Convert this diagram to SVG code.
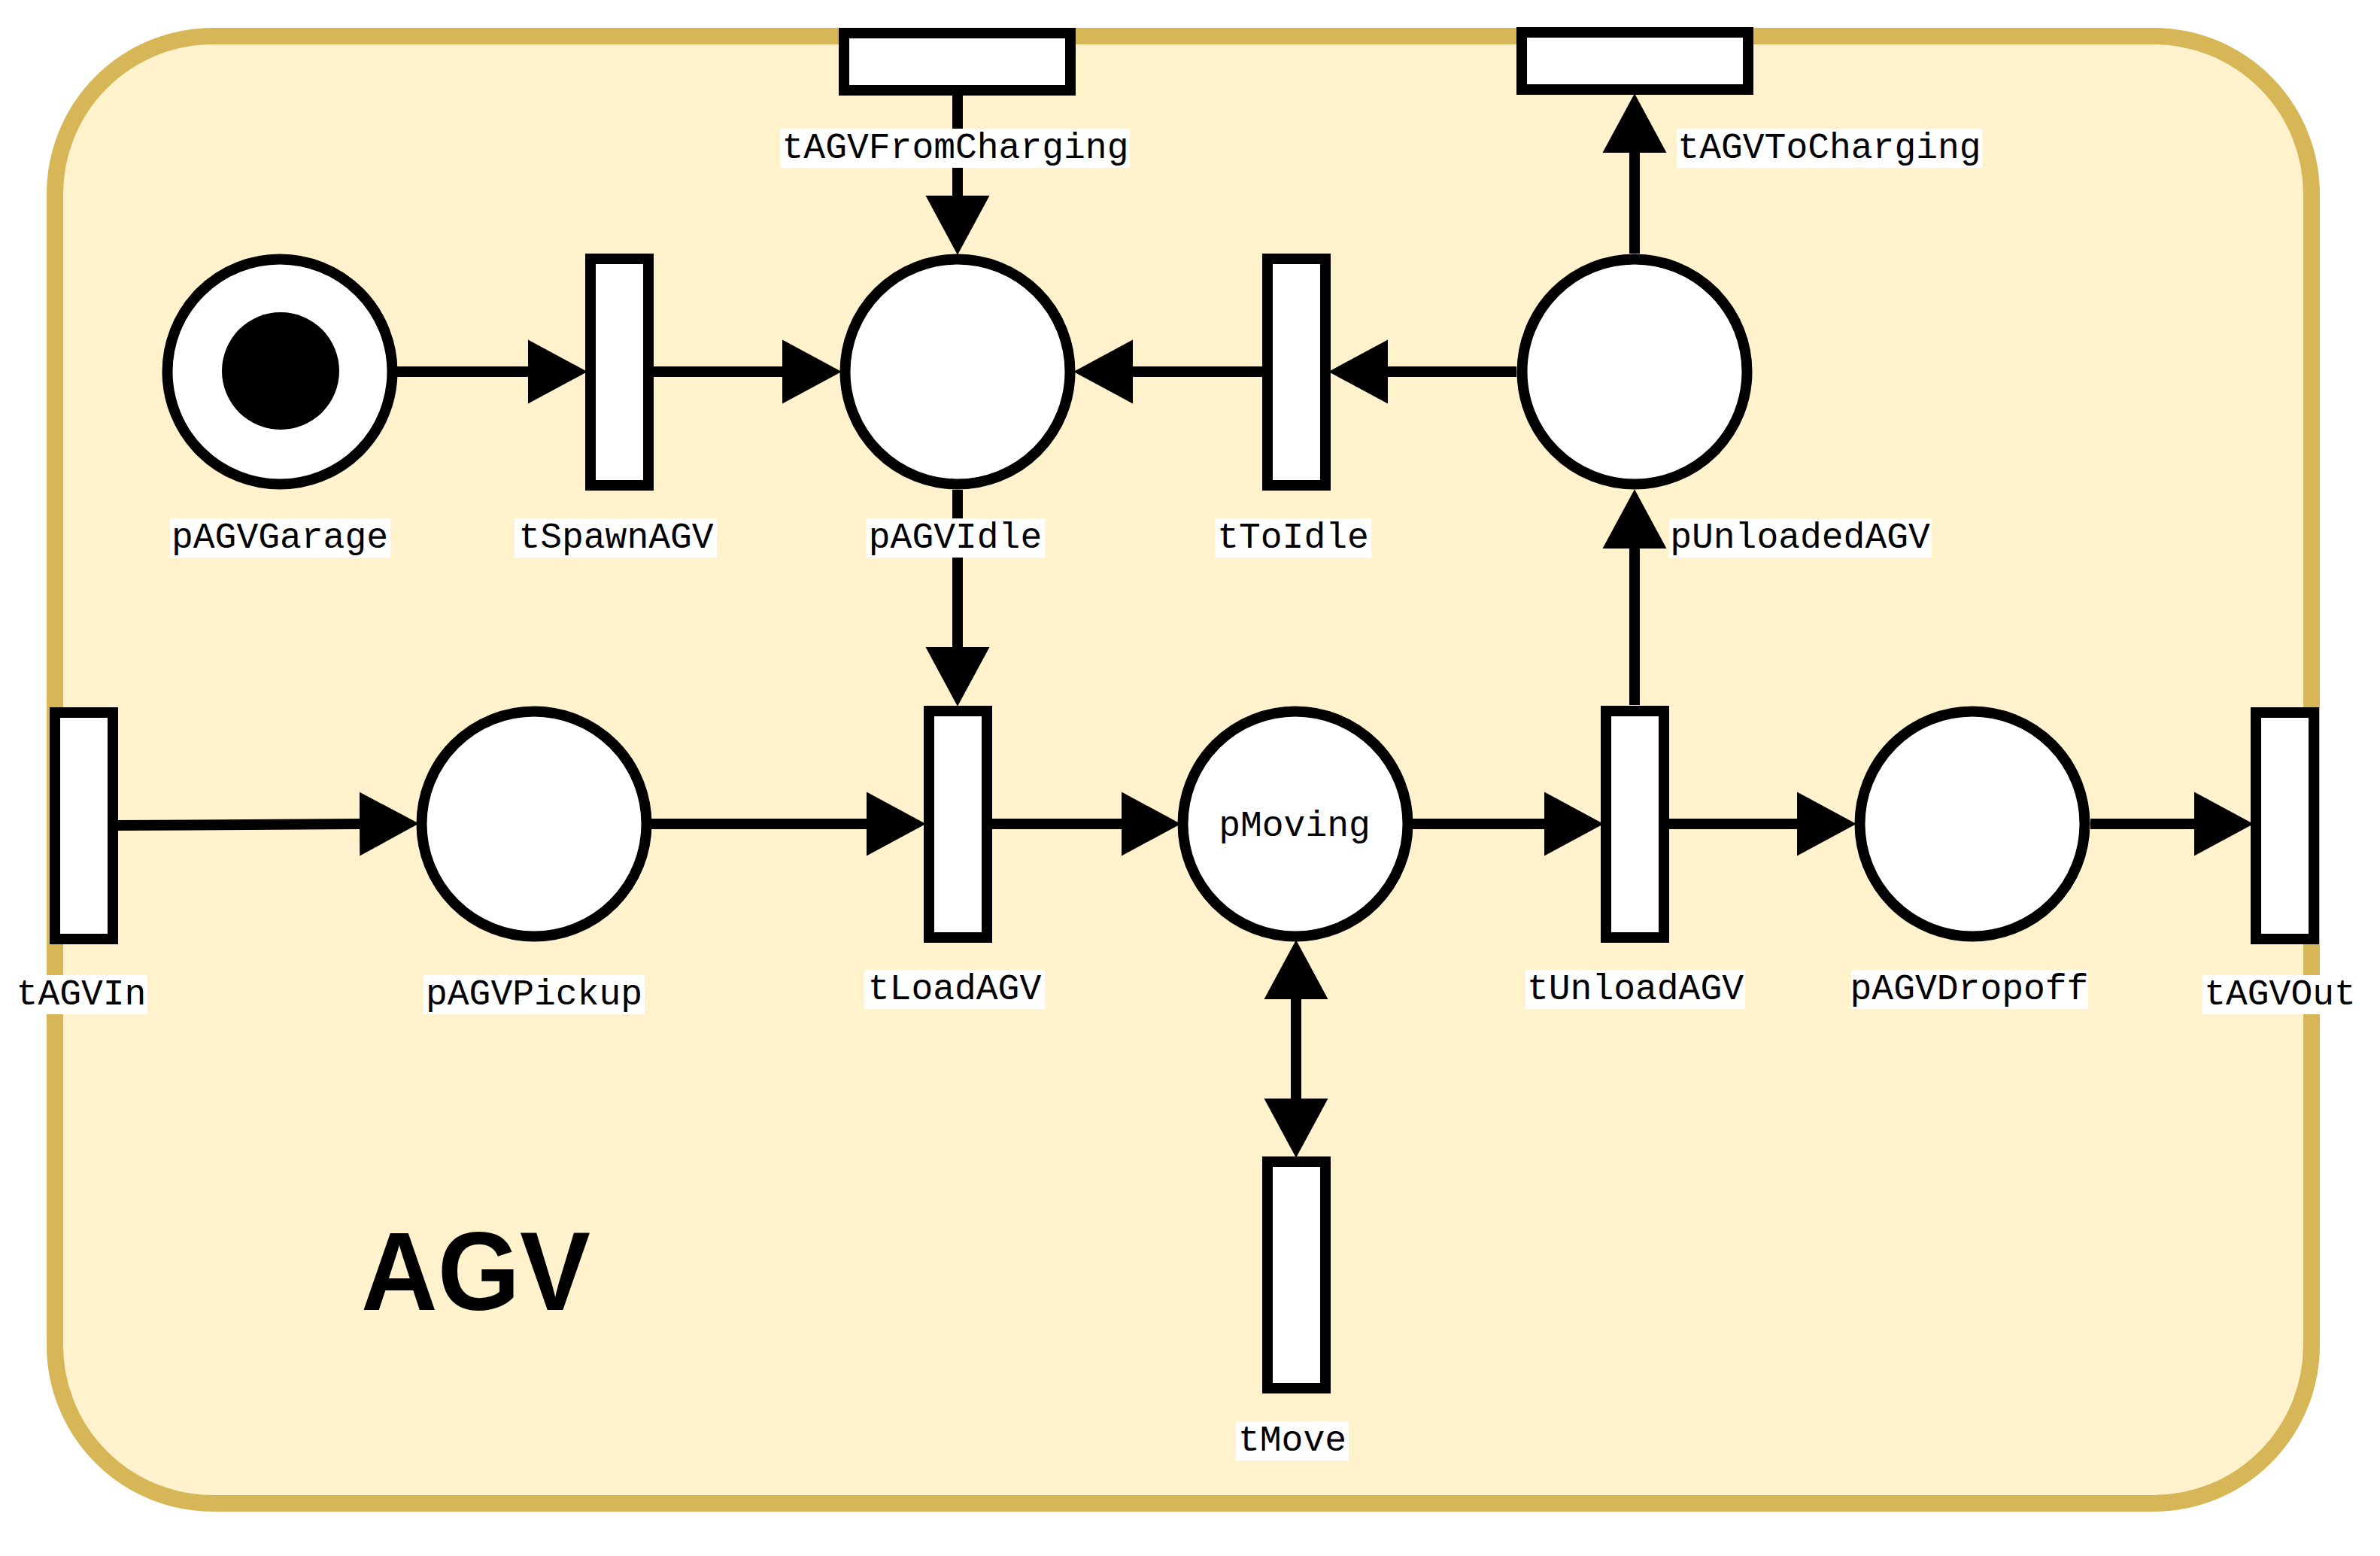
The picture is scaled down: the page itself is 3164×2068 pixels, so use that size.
<svg xmlns="http://www.w3.org/2000/svg" width="3164" height="2068" viewBox="0 0 3164 2068">
<style>
.place{fill:#ffffff;stroke:#000000;stroke-width:14}
.trans{fill:#ffffff;stroke:#000000;stroke-width:14}
.edge{fill:none;stroke:#000000;stroke-width:14}
.lbg{fill:#ffffff}
.lbl{font-family:"Liberation Mono","Courier New",monospace;font-size:48px;fill:#000000;dominant-baseline:central}
</style>
<defs>
<marker id="arr" markerUnits="userSpaceOnUse" markerWidth="80" markerHeight="86" viewBox="0 0 78 84" refX="0" refY="42" orient="auto-start-reverse">
<path d="M0,0.5 L77,42 L0,83.5 z" fill="#000000"/>
</marker>
</defs>
<rect width="3164" height="2068" fill="#ffffff"/>
<g id="container">
<rect x="73" y="48" width="3000" height="1950" rx="210" ry="210" fill="#fff2cc" stroke="#d6b656" stroke-width="22"/>
<text x="480" y="1741" font-family="Liberation Sans, Arial, sans-serif" font-weight="bold" font-size="148" textLength="305" lengthAdjust="spacingAndGlyphs" fill="#000000">AGV</text>
</g>
<g id="connectors">
<path class="edge" d="M528,494 L702,494" marker-end="url(#arr)"/>
<path class="edge" d="M869,494 L1040,494" marker-end="url(#arr)"/>
<path class="edge" d="M1273,126 L1273,260" marker-end="url(#arr)"/>
<path class="edge" d="M1678,494 L1506,494" marker-end="url(#arr)"/>
<path class="edge" d="M2016,494 L1845,494" marker-end="url(#arr)"/>
<path class="edge" d="M2173,337 L2173,203" marker-end="url(#arr)"/>
<path class="edge" d="M2173,937 L2173,729" marker-end="url(#arr)"/>
<path class="edge" d="M1273,651 L1273,860" marker-end="url(#arr)"/>
<path class="edge" d="M156,1097 L478,1095" marker-end="url(#arr)"/>
<path class="edge" d="M865,1095 L1152,1095" marker-end="url(#arr)"/>
<path class="edge" d="M1318,1095 L1491,1095" marker-end="url(#arr)"/>
<path class="edge" d="M1877,1095 L2053,1095" marker-end="url(#arr)"/>
<path class="edge" d="M2219,1095 L2389,1095" marker-end="url(#arr)"/>
<path class="edge" d="M2779,1095 L2917,1095" marker-end="url(#arr)"/>
<path class="edge" d="M1723,1328 L1723,1460" marker-start="url(#arr)" marker-end="url(#arr)"/>
</g>
<g id="tAGVFromCharging">
<rect class="trans" x="1122" y="44" width="301" height="76"/>
<rect class="lbg" x="1037" y="171" width="465" height="52"/>
<text class="lbl" x="1270" y="197" text-anchor="middle">tAGVFromCharging</text>
</g>
<g id="tAGVToCharging">
<rect class="trans" x="2023" y="43" width="301" height="76"/>
<rect class="lbg" x="2229" y="171" width="406" height="52"/>
<text class="lbl" x="2432" y="197" text-anchor="middle">tAGVToCharging</text>
</g>
<g id="pAGVGarage">
<circle class="place" cx="372" cy="494" r="149.5"/>
<circle cx="373" cy="493" r="78" fill="#000000"/>
<rect class="lbg" x="226" y="689" width="293" height="52"/>
<text class="lbl" x="372" y="715" text-anchor="middle">pAGVGarage</text>
</g>
<g id="tSpawnAGV">
<rect class="trans" x="785" y="344" width="77" height="301"/>
<rect class="lbg" x="684" y="689" width="269" height="52"/>
<text class="lbl" x="819" y="715" text-anchor="middle">tSpawnAGV</text>
</g>
<g id="pAGVIdle">
<circle class="place" cx="1273" cy="494" r="149.5"/>
<rect class="lbg" x="1151" y="689" width="238" height="52"/>
<text class="lbl" x="1270" y="715" text-anchor="middle">pAGVIdle</text>
</g>
<g id="tToIdle">
<rect class="trans" x="1685" y="344" width="77" height="301"/>
<rect class="lbg" x="1615" y="689" width="208" height="52"/>
<text class="lbl" x="1719" y="715" text-anchor="middle">tToIdle</text>
</g>
<g id="pUnloadedAGV">
<circle class="place" cx="2173" cy="494" r="149.5"/>
<rect class="lbg" x="2219" y="689" width="349" height="52"/>
<text class="lbl" x="2393" y="715" text-anchor="middle">pUnloadedAGV</text>
</g>
<g id="tAGVIn">
<rect class="trans" x="73" y="947" width="77" height="301"/>
<rect class="lbg" x="19" y="1296" width="177" height="52"/>
<text class="lbl" x="108" y="1322" text-anchor="middle">tAGVIn</text>
</g>
<g id="pAGVPickup">
<circle class="place" cx="710" cy="1095" r="149.5"/>
<rect class="lbg" x="563" y="1296" width="294" height="52"/>
<text class="lbl" x="710" y="1322" text-anchor="middle">pAGVPickup</text>
</g>
<g id="tLoadAGV">
<rect class="trans" x="1235" y="945" width="77" height="301"/>
<rect class="lbg" x="1149" y="1289" width="240" height="52"/>
<text class="lbl" x="1269" y="1315" text-anchor="middle">tLoadAGV</text>
</g>
<g id="pMoving">
<circle class="place" cx="1722" cy="1095" r="149.5"/>
<text class="lbl" x="1721" y="1098" text-anchor="middle">pMoving</text>
</g>
<g id="tUnloadAGV">
<rect class="trans" x="2135" y="945" width="77" height="301"/>
<rect class="lbg" x="2028" y="1289" width="292" height="52"/>
<text class="lbl" x="2174" y="1315" text-anchor="middle">tUnloadAGV</text>
</g>
<g id="pAGVDropoff">
<circle class="place" cx="2622" cy="1095" r="149.5"/>
<rect class="lbg" x="2461" y="1289" width="315" height="52"/>
<text class="lbl" x="2618" y="1315" text-anchor="middle">pAGVDropoff</text>
</g>
<g id="tAGVOut">
<rect class="trans" x="2999" y="947" width="77" height="301"/>
<rect class="lbg" x="2928" y="1296" width="207" height="52"/>
<text class="lbl" x="3031" y="1322" text-anchor="middle">tAGVOut</text>
</g>
<g id="tMove">
<rect class="trans" x="1685" y="1544" width="77" height="301"/>
<rect class="lbg" x="1643" y="1889" width="150" height="52"/>
<text class="lbl" x="1718" y="1915" text-anchor="middle">tMove</text>
</g>
</svg>
